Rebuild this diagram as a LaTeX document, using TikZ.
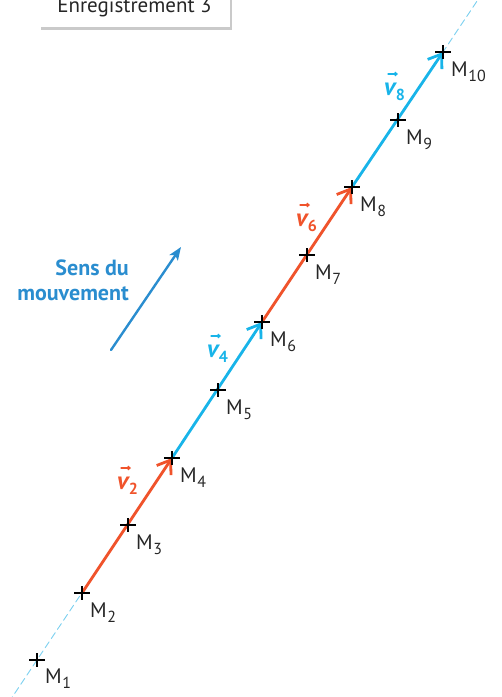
\documentclass[tikz,border=0pt]{standalone}
\usepackage{fontspec}
\setmainfont{PT Sans}
\usetikzlibrary{arrows.meta,calc,shadows}
\definecolor{vecorange}{HTML}{F0532B}
\definecolor{veccyan}{HTML}{18B4E9}
\definecolor{sensblue}{HTML}{2A8DCF}
\definecolor{guidecyan}{HTML}{7ACFEF}
\newcommand{\vname}[1]{{\bfseries\itshape v}\kern0.5pt\raisebox{-5pt}{\fontsize{16}{16}\selectfont\bfseries #1}}
\newcommand{\mname}[1]{M\kern0.5pt\raisebox{-5pt}{\fontsize{16}{16}\selectfont #1}}
\begin{document}
\begin{tikzpicture}[x=1pt, y=-1pt, line cap=round, line join=round,
    cross/.style={line width=2.8pt, line cap=butt},
    guide/.style={guidecyan, line width=0.9pt, dash pattern=on 7pt off 4pt},
    vecline/.style={line width=2.8pt, -{Straight Barb[angle=70:15pt]}},
    varrow/.style={line width=1.1pt, -{Straight Barb[angle=80:3pt]}},
    mlabel/.style={anchor=base west, inner sep=0pt, font=\fontsize{21}{24}\selectfont, text=black!85},
    vlabel/.style={anchor=base west, inner sep=0pt, font=\fontsize{25}{28}\selectfont},
    title/.style={fill=white, minimum width=191pt, minimum height=57pt, inner sep=0pt,
      drop shadow={shadow xshift=2pt, shadow yshift=-3pt, opacity=0.35, fill=black!60}}]
  \clip (0,0) rectangle (502,697);
  % cadre du titre
  \node[title] (rec) at (134.5,-1.5) {};
  \node[anchor=base, font=\fontsize{21}{24}\selectfont, text=black!85] (rectext) at (134.5,12) {Enregistrement 3};
  % points M1 ... M10
  \coordinate (m1) at (37,660);
  \coordinate (m2) at (82,593);
  \coordinate (m3) at (128,525);
  \coordinate (m4) at (172,458);
  \coordinate (m5) at (218,390);
  \coordinate (m6) at (262,322);
  \coordinate (m7) at (307,255);
  \coordinate (m8) at (352,187);
  \coordinate (m9) at (398,120);
  \coordinate (m10) at (443,52);
  % trajectoire
  \draw[guide] ($(m1)!-0.07!(m10)$) -- ($(m1)!1.12!(m10)$);
  % vecteurs vitesse
  \draw[vecline, vecorange] (m2) -- (m4);
  \draw[vecline, veccyan] (m4) -- (m6);
  \draw[vecline, vecorange] (m6) -- (m8);
  \draw[vecline, veccyan] (m8) -- (m10);
  \node[vlabel, text=vecorange] (v2) at (117,489) {\vname{2}};
  \node[vlabel, text=veccyan] (v4) at (207,357) {\vname{4}};
  \node[vlabel, text=vecorange] (v6) at (296,226) {\vname{6}};
  \node[vlabel, text=veccyan] (v8) at (384,95) {\vname{8}};
  \draw[varrow, vecorange] ([shift={(4,-21)}]v2.base west) -- ++(10,0);
  \draw[varrow, veccyan] ([shift={(4,-21)}]v4.base west) -- ++(10,0);
  \draw[varrow, vecorange] ([shift={(4,-21)}]v6.base west) -- ++(10,0);
  \draw[varrow, veccyan] ([shift={(4,-21)}]v8.base west) -- ++(10,0);
  % croix
  \draw[cross] (m1) ++(-8,0) -- ++(16,0) (m1) ++(0,-7) -- ++(0,14);
  \draw[cross] (m2) ++(-8,0) -- ++(16,0) (m2) ++(0,-7) -- ++(0,14);
  \draw[cross] (m3) ++(-8,0) -- ++(16,0) (m3) ++(0,-7) -- ++(0,14);
  \draw[cross] (m4) ++(-8,0) -- ++(16,0) (m4) ++(0,-7) -- ++(0,14);
  \draw[cross] (m5) ++(-8,0) -- ++(16,0) (m5) ++(0,-7) -- ++(0,14);
  \draw[cross] (m6) ++(-8,0) -- ++(16,0) (m6) ++(0,-7) -- ++(0,14);
  \draw[cross] (m7) ++(-8,0) -- ++(16,0) (m7) ++(0,-7) -- ++(0,14);
  \draw[cross] (m8) ++(-8,0) -- ++(16,0) (m8) ++(0,-7) -- ++(0,14);
  \draw[cross] (m9) ++(-8,0) -- ++(16,0) (m9) ++(0,-7) -- ++(0,14);
  \draw[cross] (m10) ++(-8,0) -- ++(16,0) (m10) ++(0,-7) -- ++(0,14);
  % noms des points
  \node[mlabel] (lm1) at (45,683) {\mname{1}};
  \node[mlabel] (lm2) at (90,617) {\mname{2}};
  \node[mlabel] (lm3) at (136,549) {\mname{3}};
  \node[mlabel] (lm4) at (180,482) {\mname{4}};
  \node[mlabel] (lm5) at (226,414) {\mname{5}};
  \node[mlabel] (lm6) at (270,346) {\mname{6}};
  \node[mlabel] (lm7) at (315,279) {\mname{7}};
  \node[mlabel] (lm8) at (360,211) {\mname{8}};
  \node[mlabel] (lm9) at (406,144) {\mname{9}};
  \node[mlabel] (lm10) at (451,76) {\mname{10}};
  % sens du mouvement
  \node[anchor=east, align=right, inner sep=0pt, text=sensblue,
    font=\bfseries\fontsize{22}{25}\selectfont] (sens) at (129,280) {Sens du\\mouvement};
  \coordinate (s0) at (111,350);
  \coordinate (s1) at (181,247);
  \draw[sensblue, line width=2.4pt, -{Stealth[length=13pt, width=10pt, inset=3pt]}] (s0) -- (s1);
\end{tikzpicture}
\end{document}
